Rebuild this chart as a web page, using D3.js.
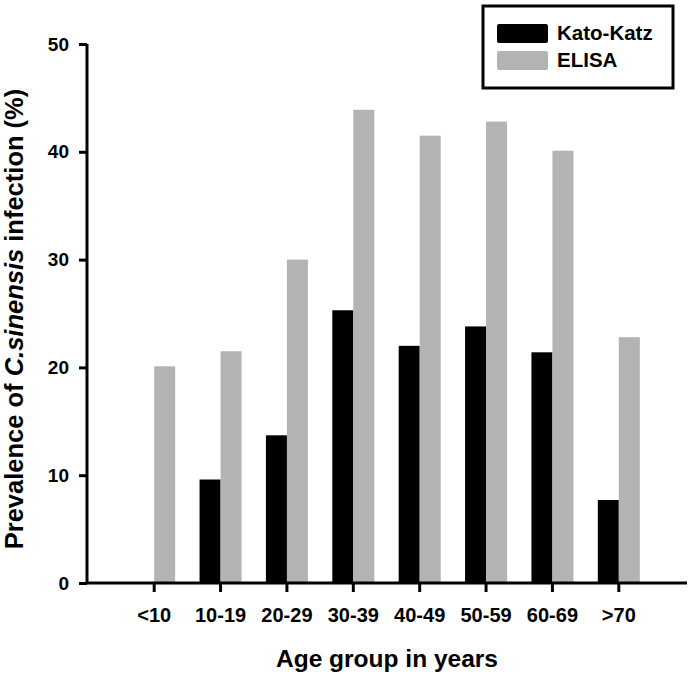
<!DOCTYPE html>
<html>
<head>
<meta charset="utf-8">
<script src="https://cdn.jsdelivr.net/npm/d3@7"></script>
<style>
  body { margin: 0; background: #fff; }
  svg { font-family: "Liberation Sans", Arial, sans-serif; font-weight: bold; }
</style>
</head>
<body>
<svg width="692" height="678"></svg>
<script>
const ageGroups = ["<10", "10-19", "20-29", "30-39", "40-49", "50-59", "60-69", ">70"];
const seriesNames = ["Kato-Katz", "ELISA"];
const katoKatz = [0, 9.6, 13.7, 25.3, 22.0, 23.8, 21.4, 7.7];
const elisa = [20.1, 21.5, 30.0, 43.9, 41.5, 42.8, 40.1, 22.8];
const yTicks = [0, 10, 20, 30, 40, 50];
const colors = ["#000000", "#b3b3b3"];

const svg = d3.select("svg");
const plotLeft = 87, plotRight = 687, plotTop = 44, plotBottom = 583;

const x = d3.scaleBand()
  .domain(ageGroups)
  .range([121, 652]);

const xSub = d3.scaleBand()
  .domain(seriesNames)
  .range([-21, 21]);

const y = d3.scaleLinear()
  .domain([0, 50])
  .range([plotBottom, plotTop]);

const rows = ageGroups.map((g, i) => ({ group: g, values: [katoKatz[i], elisa[i]] }));

// bars
const groups = svg.append("g")
  .selectAll("g")
  .data(rows)
  .enter().append("g")
  .attr("transform", d => `translate(${x(d.group) + x.bandwidth() / 2},0)`);

groups.selectAll("rect")
  .data(d => d.values.map((v, i) => ({ key: seriesNames[i], value: v, idx: i })))
  .enter().append("rect")
  .attr("x", d => xSub(d.key))
  .attr("width", xSub.bandwidth())
  .attr("y", d => y(d.value))
  .attr("height", d => plotBottom - y(d.value))
  .attr("fill", d => colors[d.idx]);

// y axis
const yAxis = svg.append("g")
  .attr("transform", `translate(${plotLeft},0)`)
  .call(d3.axisLeft(y).tickValues(yTicks).tickSize(8).tickPadding(10));
yAxis.select(".domain").attr("d", `M0,${plotTop}V${plotBottom}`).attr("stroke-width", 3);
yAxis.selectAll(".tick line").attr("stroke-width", 3);
yAxis.selectAll(".tick text").attr("font-size", 19).attr("font-weight", "bold")
  .attr("font-family", "'Liberation Sans', Arial, sans-serif").attr("fill", "#000");

// x axis
const xAxis = svg.append("g")
  .attr("transform", `translate(0,${plotBottom})`)
  .call(d3.axisBottom(x).tickSize(9).tickPadding(16));
xAxis.select(".domain").attr("d", `M${plotLeft},0H${plotRight}`).attr("stroke-width", 3);
xAxis.selectAll(".tick line").attr("stroke-width", 3);
xAxis.selectAll(".tick text").attr("font-size", 20).attr("font-weight", "bold")
  .attr("font-family", "'Liberation Sans', Arial, sans-serif").attr("fill", "#000");

// axis titles
svg.append("text")
  .attr("x", (plotLeft + plotRight) / 2)
  .attr("y", 667)
  .attr("text-anchor", "middle")
  .attr("font-size", 24.5)
  .text("Age group in years");

const yTitle = svg.append("text")
  .attr("transform", `translate(23,319) rotate(-90)`)
  .attr("text-anchor", "middle")
  .attr("font-size", 25.5);
yTitle.append("tspan").text("Prevalence of ");
yTitle.append("tspan").attr("font-style", "italic").text("C.sinensis");
yTitle.append("tspan").text(" infection (%)");

// legend
const legend = svg.append("g");
legend.append("rect")
  .attr("x", 483).attr("y", 6)
  .attr("width", 190).attr("height", 82)
  .attr("fill", "#fff").attr("stroke", "#000").attr("stroke-width", 3);

const item = legend.selectAll("g.item")
  .data(seriesNames)
  .enter().append("g")
  .attr("class", "item")
  .attr("transform", (d, i) => `translate(497,${24 + i * 27})`);
item.append("rect")
  .attr("width", 51).attr("height", 19).attr("rx", 2)
  .attr("fill", (d, i) => colors[i]);
item.append("text")
  .attr("x", 60).attr("y", 16)
  .attr("font-size", 20.5)
  .text(d => d);
</script>
</body>
</html>
